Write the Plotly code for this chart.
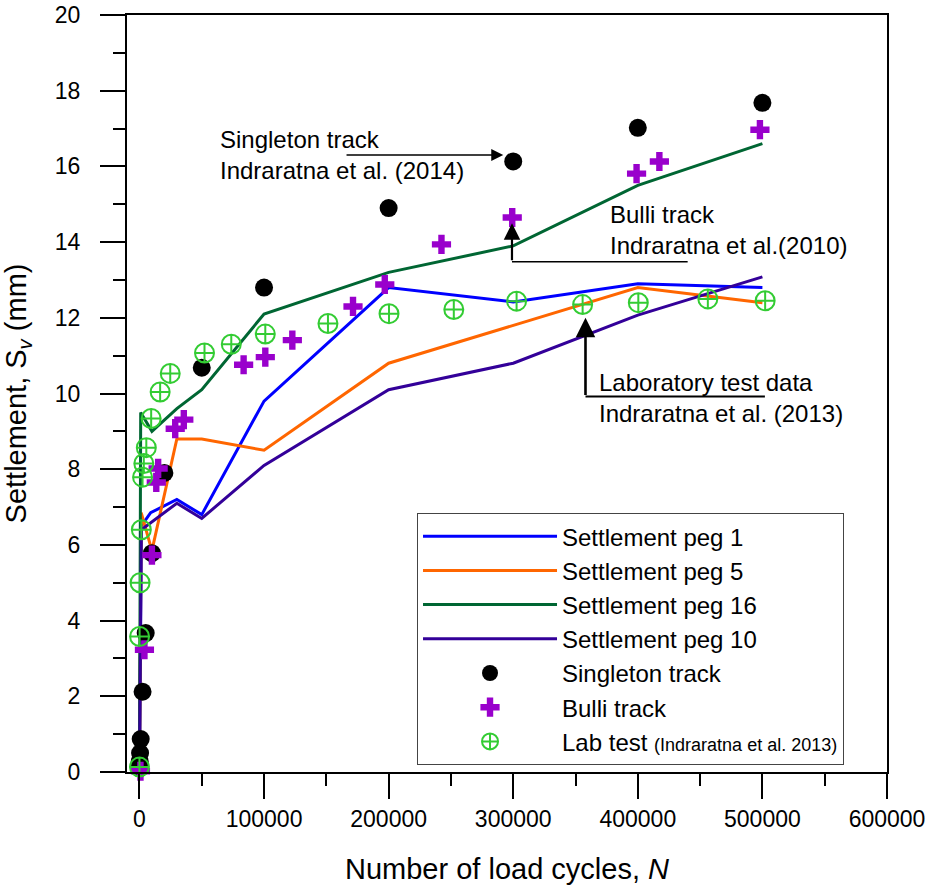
import plotly.graph_objects as go

# ---------------- data ----------------
peg_N = [0, 1500, 9000, 30000, 50000, 100000, 200000, 300000, 400000, 500000]
peg1_S = [0, 6.5, 6.85, 7.2, 6.8, 9.8, 12.8, 12.42, 12.9, 12.8]

peg5_N = [0, 1400, 10000, 30000, 50000, 100000, 200000, 300000, 400000, 500000]
peg5_S = [0, 6.85, 5.85, 8.8, 8.8, 8.5, 10.8, 11.8, 12.8, 12.4]

peg16_N = [0, 1000, 10000, 30000, 50000, 100000, 200000, 300000, 400000, 500000]
peg16_S = [0, 9.5, 9.0, 9.6, 10.1, 12.1, 13.2, 13.9, 15.5, 16.6]

peg10_N = [0, 1500, 30000, 50000, 100000, 200000, 300000, 400000, 500000]
peg10_S = [0, 6.4, 7.1, 6.7, 8.1, 10.1, 10.8, 12.07, 13.08]

singleton_N = [100, 200, 500, 1000, 2500, 5000, 10000, 20000, 50000,
               100000, 200000, 300000, 400000, 500000]
singleton_S = [0.1, 0.28, 0.5, 0.87, 2.12, 3.67, 5.78, 7.9, 10.68,
               12.8, 14.9, 16.13, 17.02, 17.68]

bulli_N = [800, 4000, 10000, 13500, 15000, 28700, 35600, 83600, 101000,
           122700, 171400, 196900, 242400, 299200, 399000, 417300, 498000]
bulli_S = [0.02, 3.23, 5.73, 7.65, 8.02, 9.07, 9.31, 10.76, 10.96,
           11.41, 12.3, 12.88, 13.94, 14.65, 15.81, 16.13, 16.97]

lab_N = [0, 100, 500, 1500, 2500, 3500, 5500, 9400, 16600, 24700, 52200,
         73700, 101000, 151300, 200300, 252300, 302700, 355700, 400400,
         456200, 502200]
lab_S = [0.13, 3.58, 5.0, 6.4, 7.79, 8.15, 8.57, 9.34, 10.04, 10.53, 11.07,
         11.3, 11.57, 11.85, 12.11, 12.22, 12.44, 12.35, 12.4, 12.5, 12.45]

x_ticks = [0, 100000, 200000, 300000, 400000, 500000, 600000]
y_ticks = [0, 2, 4, 6, 8, 10, 12, 14, 16, 18, 20]

FONT = "Liberation Sans, Arial, Helvetica, sans-serif"

fig = go.Figure()

line_series = [
    ("Settlement peg 1", peg_N, peg1_S, "#0000FF"),
    ("Settlement peg 5", peg5_N, peg5_S, "#FF6600"),
    ("Settlement peg 16", peg16_N, peg16_S, "#006633"),
    ("Settlement peg 10", peg10_N, peg10_S, "#330099"),
]
for name, xs, ys, col in line_series:
    fig.add_trace(go.Scatter(x=xs, y=ys, mode="lines", name=name,
                             line=dict(color=col, width=3)))

fig.add_trace(go.Scatter(x=singleton_N, y=singleton_S, mode="markers",
                         name="Singleton track", cliponaxis=False,
                         marker=dict(symbol="circle", size=18, color="black")))
fig.add_trace(go.Scatter(x=bulli_N, y=bulli_S, mode="markers",
                         name="Bulli track", cliponaxis=False,
                         marker=dict(symbol="cross", size=16, color="#9900CC",
                                     line=dict(width=0))))
fig.add_trace(go.Scatter(x=lab_N, y=lab_S, mode="markers",
                         name='Lab test <span style="font-size:18px">(Indraratna et al. 2013)</span>',
                         cliponaxis=False,
                         marker=dict(symbol="circle-cross-open", size=19,
                                     color="#33CC33", line=dict(width=2))))

# ---------------- annotations ----------------
ann_font = dict(family=FONT, size=24, color="black")
fig.add_annotation(x=63000, y=16.31, xref="x", yref="y", showarrow=False,
                   xanchor="left", yanchor="middle", align="left",
                   text="Singleton track<br>Indraratna et al. (2014)", font=ann_font)
fig.add_annotation(x=376000, y=14.32, xref="x", yref="y", showarrow=False,
                   xanchor="left", yanchor="middle", align="left",
                   text="Bulli track<br>Indraratna et al.(2010)", font=ann_font)
fig.add_annotation(x=367000, y=9.88, xref="x", yref="y", showarrow=False,
                   xanchor="left", yanchor="middle", align="left",
                   text="Laboratory test data<br>Indraratna et al. (2013)", font=ann_font)

# arrows
arrow_style = dict(showarrow=True, arrowhead=2, arrowsize=1.5, arrowwidth=1.6,
                   arrowcolor="black", text="", xref="x", yref="y",
                   axref="x", ayref="y")
fig.add_annotation(x=292000, y=16.3, ax=165000, ay=16.3, **arrow_style)
fig.add_annotation(x=299000, y=14.5, ax=299000, ay=13.48,
                   **{**arrow_style, "arrowwidth": 2.2})
fig.add_annotation(x=358000, y=12.0, ax=358000, ay=9.92,
                   **{**arrow_style, "arrowwidth": 2.6})
fig.add_shape(type="line", x0=299000, y0=13.48, x1=440000, y1=13.48,
              xref="x", yref="y", line=dict(color="black", width=1.6))
fig.add_shape(type="line", x0=358000, y0=9.92, x1=502000, y1=9.92,
              xref="x", yref="y", line=dict(color="black", width=2))

axis_common = dict(showline=True, linecolor="black", linewidth=2, mirror=True,
                   ticks="outside", ticklen=25, tickwidth=2, tickcolor="black",
                   showgrid=False, zeroline=False, automargin=False,
                   ticklabeloverflow="allow",
                   tickfont=dict(family=FONT, size=23, color="black"))

fig.update_xaxes(range=[-10000, 600000], tickvals=x_ticks,
                 ticktext=[str(v) for v in x_ticks],
                 minor=dict(ticks="outside", ticklen=12, tickwidth=2,
                            tickcolor="black", dtick=50000, tick0=0, showgrid=False),
                 ticklabelstandoff=0,
                 title=dict(text="Number of load cycles, <i>N</i>", standoff=28,
                            font=dict(family=FONT, size=29, color="black")),
                 **axis_common)
fig.update_yaxes(range=[0, 20], tickvals=y_ticks,
                 minor=dict(ticks="outside", ticklen=12, tickwidth=2,
                            tickcolor="black", dtick=1, tick0=0, showgrid=False),
                 ticklabelstandoff=15,
                 title=dict(text="Settlement, S<sub><i>v</i></sub> (mm)", standoff=20,
                            font=dict(family=FONT, size=29, color="black")),
                 **axis_common)

fig.update_layout(
    width=930, height=888,
    margin=dict(l=127, r=43, t=15, b=116),
    plot_bgcolor="white", paper_bgcolor="white",
    font=dict(family=FONT, color="black"),
    legend=dict(x=0.3816, y=0.342, xanchor="left", yanchor="top",
                bgcolor="white", bordercolor="#444444", borderwidth=1,
                font=dict(family=FONT, size=24, color="black"),
                itemwidth=134, tracegroupgap=0),
    showlegend=True,
)

# remove the default page margin so the 930x888 figure fills the window exactly
page_fix = ("document.body.style.margin='0';"
            "document.body.style.overflow='hidden';"
            "document.documentElement.style.overflow='hidden';")
fig.write_html("out.html", post_script=page_fix,
               config={"displayModeBar": False})
